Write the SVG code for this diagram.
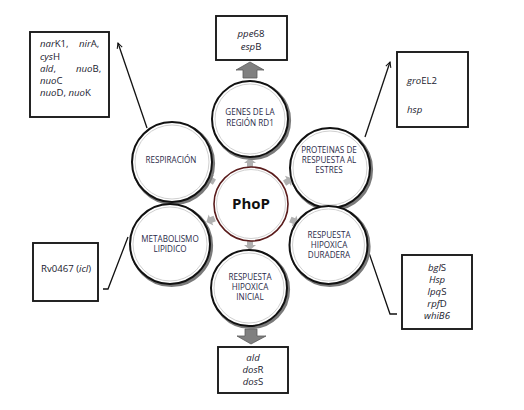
<svg xmlns="http://www.w3.org/2000/svg" xmlns:xlink="http://www.w3.org/1999/xlink" width="524" height="410" viewBox="0 0 524 410">
<style>
.bg{fill:#fff}
.shadow{fill:none;stroke:#7a7a7a;stroke-width:3.2}
.ring{fill:#fff;stroke:#111;stroke-width:2}
.inner{fill:none;stroke:#d0d0d0;stroke-width:1}
.lbl{font-family:"Open Sans","Liberation Sans",sans-serif;font-size:8.1px;fill:#2a2a48;text-anchor:middle}
.box{fill:#fff;stroke:#1a1a1a;stroke-width:1.9}
.bt{font-family:"Open Sans","Liberation Sans",sans-serif;font-size:9.6px;fill:#1a1a2e}
.it{font-style:italic}
.conn{fill:none;stroke:#111;stroke-width:1.3}
.ga{fill:#b0b0b0}
.big{fill:#808080;stroke:#5a5a5a;stroke-width:0.8}
</style>
<defs>
<marker id="tip" viewBox="0 0 8 8" refX="7" refY="4" markerWidth="7" markerHeight="7" orient="auto" markerUnits="userSpaceOnUse">
<path d="M1,1 L7,4 L1,7" fill="none" stroke="#111" stroke-width="1.2"/>
</marker>
<path id="sa" d="M-4,-3 L0,-3 L0,-6 L5,0 L0,6 L0,3 L-4,3 Z"/>
</defs>
<rect class="bg" x="0" y="0" width="524" height="410"/>

<g id="connectors">
<polyline class="conn" points="147,128 118,43" marker-end="url(#tip)"/>
<polyline class="conn" points="365,137 390,62" marker-end="url(#tip)"/>
<polyline class="conn" points="128,237 108,289 103,289"/>
<polyline class="conn" points="368,250 390,314 397,314"/>
<polygon class="big" points="243,78 243,70 236,70 250,62 264,70 257,70 257,78"/>
<polygon class="big" points="245,329 257,329 257,336 266,336 251,344 237,336 245,336"/>
<g class="ga">
<use xlink:href="#sa" transform="translate(250,163) rotate(-90)"/>
<use xlink:href="#sa" transform="translate(211,180) rotate(-149)"/>
<use xlink:href="#sa" transform="translate(288,181) rotate(-31)"/>
<use xlink:href="#sa" transform="translate(211,220) rotate(157)"/>
<use xlink:href="#sa" transform="translate(294,221) rotate(23)"/>
<use xlink:href="#sa" transform="translate(250,245) rotate(90)"/>
</g>
</g>

<g id="phop">
<circle cx="251" cy="204" r="37" fill="#fff" stroke="#5a1c1c" stroke-width="1.6"/>
<circle cx="251" cy="204" r="34.5" class="inner"/>
<text x="251" y="209" font-family="Open Sans,Liberation Sans,sans-serif" font-weight="bold" font-size="15" text-anchor="middle" fill="#111">PhoP</text>
</g>

<g id="genes">
<circle cx="251.5" cy="120.5" r="38" class="shadow"/>
<circle cx="250" cy="119" r="38" class="ring"/>
<circle cx="250" cy="119" r="35" class="inner"/>
<text class="lbl" x="250" y="115">GENES DE LA</text>
<text class="lbl" x="250" y="126">REGIÓN RD1</text>
</g>

<g id="respiracion">
<circle cx="173.5" cy="163.5" r="40" class="shadow"/>
<circle cx="172" cy="162" r="40" class="ring"/>
<circle cx="172" cy="162" r="37" class="inner"/>
<text class="lbl" x="171" y="163">RESPIRACIÓN</text>
</g>

<g id="proteinas">
<circle cx="331.5" cy="169.5" r="40" class="shadow"/>
<circle cx="330" cy="168" r="40" class="ring"/>
<circle cx="330" cy="168" r="37" class="inner"/>
<text class="lbl" x="329" y="153">PROTEINAS DE</text>
<text class="lbl" x="329" y="163">RESPUESTA AL</text>
<text class="lbl" x="329" y="173">ESTRES</text>
</g>

<g id="metabolismo">
<circle cx="171.5" cy="245.5" r="40" class="shadow"/>
<circle cx="170" cy="244" r="40" class="ring"/>
<circle cx="170" cy="244" r="37" class="inner"/>
<text class="lbl" x="170" y="242">METABOLISMO</text>
<text class="lbl" x="170" y="252">LIPIDICO</text>
</g>

<g id="inicial">
<circle cx="250.5" cy="289.5" r="38" class="shadow"/>
<circle cx="249" cy="288" r="38" class="ring"/>
<circle cx="249" cy="288" r="35" class="inner"/>
<text class="lbl" x="250" y="280">RESPUESTA</text>
<text class="lbl" x="250" y="290">HIPOXICA</text>
<text class="lbl" x="250" y="300">INICIAL</text>
</g>

<g id="duradera">
<circle cx="330" cy="246.5" r="39" class="shadow"/>
<circle cx="328.5" cy="245" r="39" class="ring"/>
<circle cx="328.5" cy="245" r="36" class="inner"/>
<text class="lbl" x="329" y="238">RESPUESTA</text>
<text class="lbl" x="329" y="248">HIPOXICA</text>
<text class="lbl" x="329" y="258">DURADERA</text>
</g>

<g id="box-rd1">
<rect class="box" x="216" y="16" width="71" height="44"/>
<text class="bt" x="251" y="37" text-anchor="middle" font-size="10.5"><tspan class="it">ppe</tspan>68</text>
<text class="bt" x="251" y="50" text-anchor="middle" font-size="10.5"><tspan class="it">esp</tspan>B</text>
</g>

<g id="box-resp">
<rect class="box" x="30" y="32" width="79" height="85"/>
<text class="bt" x="40" y="47"><tspan class="it">nar</tspan>K1,</text>
<text class="bt" x="79" y="47"><tspan class="it">nir</tspan>A,</text>
<text class="bt" x="40" y="60"><tspan class="it">cys</tspan>H</text>
<text class="bt" x="40" y="72"><tspan class="it">ald</tspan>,</text>
<text class="bt" x="76" y="72"><tspan class="it">nuo</tspan>B,</text>
<text class="bt" x="40" y="84"><tspan class="it">nuo</tspan>C</text>
<text class="bt" x="40" y="96"><tspan class="it">nuo</tspan>D, <tspan class="it">nuo</tspan>K</text>
</g>

<g id="box-estres">
<rect class="box" x="397" y="52" width="71" height="75"/>
<text class="bt" x="407" y="84" font-size="11.5"><tspan class="it">gro</tspan>EL2</text>
<text class="bt it" x="407" y="113" font-size="11">hsp</text>
</g>

<g id="box-lipid">
<rect class="box" x="33" y="243" width="65" height="58"/>
<text class="bt" x="66" y="272" text-anchor="middle">Rv0467 (<tspan class="it">icl</tspan>)</text>
</g>

<g id="box-duradera">
<rect class="box" x="402" y="255" width="70" height="74"/>
<text class="bt" x="437" y="271" text-anchor="middle"><tspan class="it">bgl</tspan>S</text>
<text class="bt it" x="437" y="283" text-anchor="middle">Hsp</text>
<text class="bt" x="437" y="295" text-anchor="middle"><tspan class="it">lpq</tspan>S</text>
<text class="bt" x="437" y="307" text-anchor="middle"><tspan class="it">rpf</tspan>D</text>
<text class="bt it" x="437" y="319" text-anchor="middle">whiB6</text>
</g>

<g id="box-inicial">
<rect class="box" x="218" y="347" width="70" height="46"/>
<text class="bt it" x="253" y="361" text-anchor="middle">ald</text>
<text class="bt" x="253" y="373" text-anchor="middle"><tspan class="it">dos</tspan>R</text>
<text class="bt" x="253" y="385" text-anchor="middle"><tspan class="it">dos</tspan>S</text>
</g>
</svg>
